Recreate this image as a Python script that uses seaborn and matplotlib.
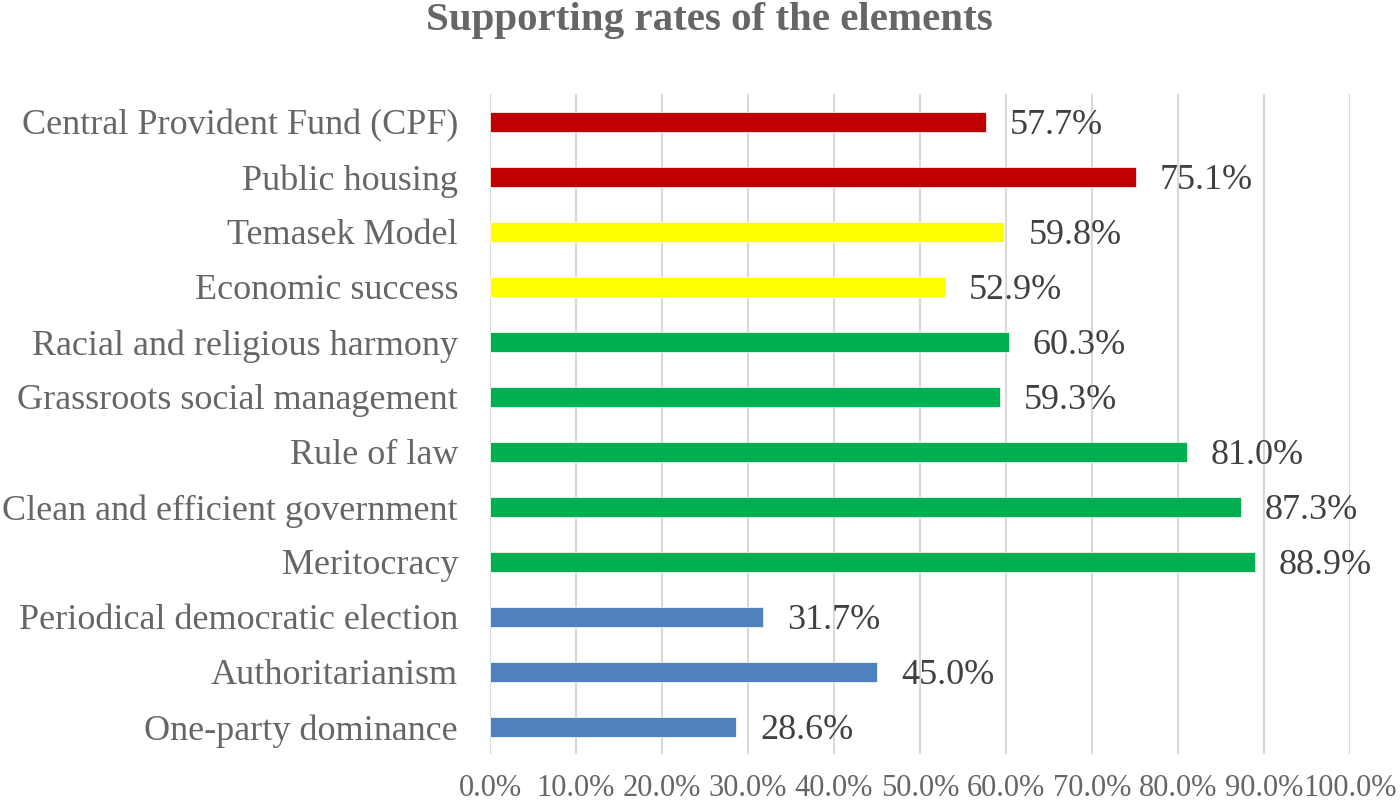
import matplotlib
matplotlib.use('Agg')
import matplotlib.pyplot as plt
import seaborn as sns
import pandas as pd
from matplotlib.ticker import FuncFormatter

# Values (top to bottom)
elements = ['Central Provident Fund (CPF)', 'Public housing', 'Temasek Model',
            'Economic success', 'Racial and religious harmony',
            'Grassroots social management', 'Rule of law',
            'Clean and efficient government', 'Meritocracy',
            'Periodical democratic election', 'Authoritarianism',
            'One-party dominance']
rates = [57.7, 75.1, 59.8, 52.9, 60.3, 59.3, 81.0, 87.3, 88.9, 31.7, 45.0, 28.6]
groups = ['red', 'red', 'yellow', 'yellow', 'green', 'green', 'green',
          'green', 'green', 'blue', 'blue', 'blue']
group_colors = {'red': '#C00000', 'yellow': '#FFFF00',
                'green': '#00B050', 'blue': '#4F81BD'}

df = pd.DataFrame({'element': elements, 'rate': rates, 'group': groups})

sns.set_style('white')
plt.rcParams['font.family'] = ['Liberation Serif', 'DejaVu Serif']

fig = plt.figure(figsize=(14, 8.06), dpi=100)
ax = fig.add_axes([0.35, 0.0639, 0.6143, 0.8189])

sns.barplot(data=df, y='element', x='rate', hue='group', palette=group_colors,
            dodge=False, width=0.36, legend=False, ax=ax, zorder=3,
            saturation=1, edgecolor='white', linewidth=0.5)

ax.set_xlim(0, 100)
ax.set_xticks(range(0, 101, 10))
ax.xaxis.set_major_formatter(FuncFormatter(lambda v, p: f'{v:.1f}%'))
ax.grid(axis='x', color='#D9D9D9', linewidth=1.5, zorder=0)
ax.grid(axis='y', visible=False)
for s in ax.spines.values():
    s.set_visible(False)

ax.set_xlabel('')
ax.set_ylabel('')
ax.tick_params(axis='y', labelsize=26, labelcolor='#666666', length=0, pad=23)
ax.tick_params(axis='x', labelsize=22, labelcolor='#666666', length=0, pad=14)

# value labels next to each bar
for i, v in enumerate(rates):
    ax.text(v + 2.8, i, f'{v:.1f}%', va='center_baseline', ha='left',
            fontsize=26, color='#404040')

fig.suptitle('Supporting rates of the elements', x=0.507, y=0.998,
             fontsize=29.5, fontweight='bold', color='#666666')

fig.savefig('out.png', dpi=100)
